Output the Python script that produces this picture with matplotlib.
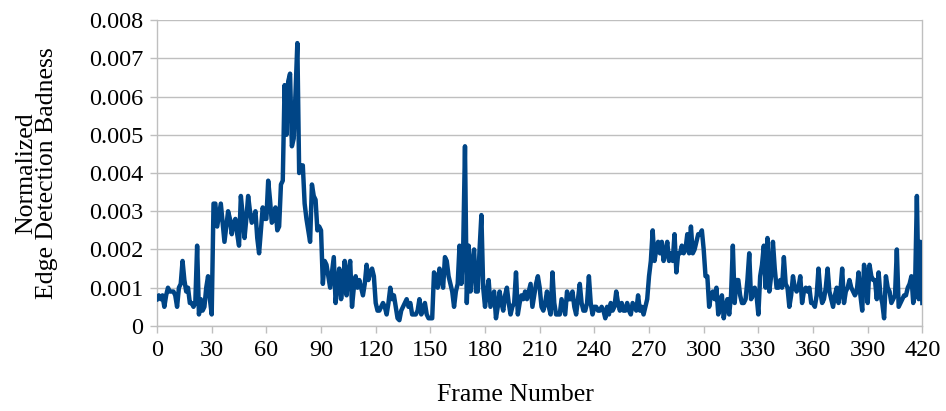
import matplotlib
matplotlib.use("Agg")
import matplotlib.pyplot as plt
from matplotlib.ticker import FuncFormatter

badness = [
    0.0007, 0.0008, 0.0007, 0.0008, 0.0005, 0.0008, 0.0010, 0.0009, 0.0009, 0.0009,
    0.0008, 0.0005, 0.0010, 0.0011, 0.0017, 0.0012, 0.0009, 0.0010, 0.0006, 0.0006,
    0.0005, 0.0006, 0.0021, 0.0003, 0.0007, 0.0004, 0.0005, 0.0010, 0.0013, 0.0007,
    0.0003, 0.0032, 0.0032, 0.0026, 0.0029, 0.0032, 0.0027, 0.0022, 0.0026, 0.0030,
    0.0028, 0.0024, 0.0027, 0.0028, 0.0024, 0.0021, 0.0034, 0.0029, 0.0023, 0.0028,
    0.0034, 0.0030, 0.0027, 0.0028, 0.0030, 0.0023, 0.0019, 0.0025, 0.0031, 0.0028,
    0.0028, 0.0038, 0.0033, 0.0027, 0.0028, 0.0031, 0.0025, 0.0026, 0.0037, 0.0038,
    0.0063, 0.0050, 0.0064, 0.0066, 0.0047, 0.0049, 0.0061, 0.0074, 0.0040, 0.0042,
    0.0042, 0.0032, 0.0028, 0.0025, 0.0022, 0.0037, 0.0034, 0.0033, 0.0025, 0.0026,
    0.0025, 0.0011, 0.0017, 0.0016, 0.0013, 0.0010, 0.0014, 0.0018, 0.0006, 0.0011,
    0.0015, 0.0007, 0.0011, 0.0017, 0.0008, 0.0014, 0.0017, 0.0005, 0.0010, 0.0013,
    0.0010, 0.0012, 0.0010, 0.0008, 0.0011, 0.0016, 0.0012, 0.0014, 0.0015, 0.0013,
    0.0006, 0.0004, 0.0004, 0.0005, 0.0006, 0.0005, 0.0003, 0.0006, 0.0010, 0.0007,
    0.0008, 0.0005, 0.0002, 0.00015, 0.0004, 0.0005, 0.0006, 0.0007, 0.0005, 0.0006,
    0.0003, 0.0003, 0.0003, 0.0004, 0.0007, 0.0003, 0.0004, 0.0006, 0.0003, 0.0002,
    0.0002, 0.0002, 0.0014, 0.0013, 0.0010, 0.0015, 0.0012, 0.0010, 0.0018, 0.0017,
    0.0013, 0.0011, 0.0009, 0.0005, 0.0009, 0.0011, 0.0021, 0.0011, 0.0020, 0.0047,
    0.0006, 0.0021, 0.0009, 0.0016, 0.0020, 0.0009, 0.0009, 0.0020, 0.0029, 0.0010,
    0.0005, 0.0009, 0.0012, 0.0005, 0.0007, 0.0009, 0.0002, 0.0005, 0.0009, 0.0006,
    0.0004, 0.0008, 0.0010, 0.0006, 0.0003, 0.0005, 0.0006, 0.0014, 0.0003, 0.0006,
    0.0008, 0.0007, 0.0009, 0.0007, 0.0009, 0.0011, 0.0005, 0.0008, 0.0011, 0.0013,
    0.0010, 0.0005, 0.0004, 0.0006, 0.0009, 0.0005, 0.0003, 0.0014, 0.0006, 0.0003,
    0.0003, 0.0003, 0.0007, 0.0005, 0.0003, 0.0009, 0.0007, 0.0007, 0.0009, 0.0005,
    0.0003, 0.0007, 0.0011, 0.0006, 0.0004, 0.0004, 0.0006, 0.0013, 0.0006, 0.0003,
    0.0005, 0.0005, 0.0004, 0.0004, 0.0005, 0.0004, 0.0002, 0.0005, 0.0003, 0.0006,
    0.0004, 0.0005, 0.0009, 0.0006, 0.0004, 0.0006, 0.0004, 0.0004, 0.0006, 0.0004,
    0.0003, 0.0006, 0.0005, 0.0004, 0.0008, 0.0004, 0.0005, 0.0003, 0.0005, 0.0007,
    0.0013, 0.0017, 0.0025, 0.0017, 0.0020, 0.0022, 0.0019, 0.0022, 0.0017, 0.0019,
    0.0022, 0.0017, 0.0019, 0.0017, 0.0024, 0.0014, 0.0019, 0.0019, 0.0021, 0.0019,
    0.0020, 0.0024, 0.0019, 0.0026, 0.0019, 0.0020, 0.0022, 0.0024, 0.0024, 0.0025,
    0.0020, 0.0013, 0.0013, 0.0005, 0.0008, 0.0009, 0.0007, 0.0010, 0.0003, 0.0006,
    0.0008, 0.0002, 0.0005, 0.0007, 0.0003, 0.0008, 0.0021, 0.0006, 0.0012, 0.0012,
    0.0008, 0.0006, 0.0006, 0.0007, 0.0012, 0.0019, 0.0007, 0.0008, 0.0010, 0.0008,
    0.0003, 0.0013, 0.0016, 0.0021, 0.0010, 0.0023, 0.0009, 0.0013, 0.0022, 0.0015,
    0.0010, 0.0010, 0.0012, 0.0010, 0.0018, 0.0011, 0.0010, 0.0005, 0.0008, 0.0013,
    0.0010, 0.0009, 0.0010, 0.0013, 0.0006, 0.0009, 0.0010, 0.0009, 0.0010, 0.0006,
    0.0006, 0.0005, 0.0008, 0.0015, 0.0009, 0.0006, 0.0007, 0.0010, 0.0015, 0.0009,
    0.0007, 0.0005, 0.0008, 0.0010, 0.0006, 0.0009, 0.0015, 0.0006, 0.0009, 0.0010,
    0.0012, 0.0010, 0.0009, 0.0008, 0.0009, 0.0014, 0.0008, 0.0004, 0.0016, 0.0013,
    0.0006, 0.0016, 0.0013, 0.0012, 0.0012, 0.0007, 0.0014, 0.0008, 0.0006, 0.0002,
    0.0013, 0.0010, 0.0009, 0.0006, 0.0007, 0.0008, 0.0020, 0.0005, 0.0006, 0.0007,
    0.0008, 0.0008, 0.0010, 0.0011, 0.0013, 0.0006, 0.0010, 0.0034, 0.0007, 0.0022,
    0.0006,
]
frames = list(range(len(badness)))

x_ticks = [0, 30, 60, 90, 120, 150, 180, 210, 240, 270, 300, 330, 360, 390, 420]
y_ticks = [0, 0.001, 0.002, 0.003, 0.004, 0.005, 0.006, 0.007, 0.008]

plt.rcParams['font.family'] = ['Liberation Serif', 'DejaVu Serif']

fig = plt.figure(figsize=(9.46, 4.11), dpi=100)
ax = fig.add_axes([0.166, 0.207, 0.809, 0.744])

grid_color = '#BFBFBF'
ax.plot(frames, badness, color='#004586', lw=3.2, solid_joinstyle='round', zorder=3)

ax.set_xlim(0, 420)
ax.set_ylim(0, 0.008)
ax.set_xticks(x_ticks)
ax.set_yticks(y_ticks)
ax.yaxis.set_major_formatter(FuncFormatter(lambda v, p: '0' if v == 0 else '%g' % round(v, 3)))

ax.grid(axis='y', color=grid_color, lw=1)
ax.set_axisbelow(True)
for side in ['left', 'bottom', 'right']:
    ax.spines[side].set_color(grid_color)
    ax.spines[side].set_linewidth(1)
ax.spines['top'].set_visible(False)

ax.tick_params(axis='both', colors=grid_color, labelcolor='black', labelsize=17.5, length=5, width=1)
ax.tick_params(axis='y', pad=5)
ax.tick_params(axis='x', pad=5)

ax.set_xlabel('Frame Number', fontsize=18.5)
ax.xaxis.set_label_coords(0.468, -0.19)
ax.set_ylabel('Normalized\nEdge Detection Badness', fontsize=18.5, linespacing=0.95)
ax.yaxis.set_label_coords(-0.129, 0.5)

fig.savefig('out.png', dpi=100)
